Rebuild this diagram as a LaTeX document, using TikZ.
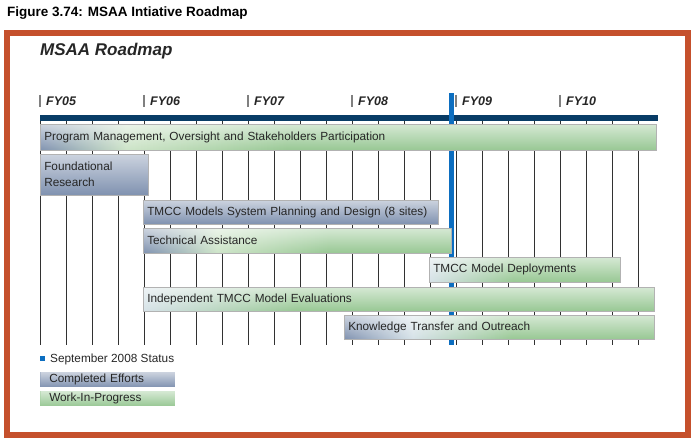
\documentclass[tikz,border=0pt]{standalone}
\usepackage{fontspec}
\setmainfont{Liberation Sans}
\usetikzlibrary{fadings}
\tikzfading[name=topglow, top color=transparent!0, bottom color=transparent!100]
\definecolor{frameorange}{RGB}{197,80,44}
\definecolor{navy}{RGB}{8,60,102}
\definecolor{statusblue}{RGB}{12,110,192}
\definecolor{bluegray}{RGB}{128,146,176}
\definecolor{wipgreen}{RGB}{152,200,148}
\definecolor{paleblue}{RGB}{214,226,232}
\definecolor{palegreen}{RGB}{205,228,200}
\definecolor{gridgray}{RGB}{50,50,50}
% the path spans 25bp..75bp of each shading
\pgfdeclarehorizontalshading{pmshade}{100bp}{color(0bp)=(bluegray); color(25bp)=(bluegray); color(32bp)=(palegreen); color(45bp)=(wipgreen); color(100bp)=(wipgreen)}
\pgfdeclarehorizontalshading{tashade}{100bp}{color(0bp)=(bluegray); color(25bp)=(bluegray); color(37bp)=(palegreen); color(55bp)=(wipgreen); color(100bp)=(wipgreen)}
\pgfdeclarehorizontalshading{ktshade}{100bp}{color(0bp)=(bluegray); color(25bp)=(bluegray); color(36bp)=(paleblue); color(52bp)=(wipgreen); color(100bp)=(wipgreen)}
\pgfdeclarehorizontalshading{depshade}{100bp}{color(0bp)=(paleblue); color(25bp)=(paleblue); color(47bp)=(wipgreen); color(100bp)=(wipgreen)}
\pgfdeclarehorizontalshading{indshade}{100bp}{color(0bp)=(paleblue); color(25bp)=(paleblue); color(40bp)=(wipgreen); color(100bp)=(wipgreen)}
\newcommand\barfont{\fontsize{11.8}{16}\selectfont}
\tikzset{
  bar/.style={draw=black!30, line width=0.5pt, anchor=north west,
    inner xsep=4pt, inner ysep=0pt, align=left, font=\barfont, text=black!85,
    path picture={\fill[white, fill opacity=0.6, path fading=topglow]
      (path picture bounding box.south west) rectangle (path picture bounding box.north east);}},
  done/.style={bar, fill=bluegray},
  wip/.style={bar, fill=wipgreen},
  yearlbl/.style={anchor=base west, font=\fontsize{12.5}{14}\selectfont\bfseries\itshape, text=black!85, inner sep=0pt},
  gridline/.style={gridgray, line width=1pt},
  yeartick/.style={gray, line width=1.4pt},
}
\begin{document}
\begin{tikzpicture}[x=1pt,y=-1pt]
\useasboundingbox (0,0) rectangle (694,443);
% title
\node[anchor=base west, inner sep=0pt, font=\fontsize{13.5}{15}\selectfont\bfseries] (title) at (7,17) {Figure 3.74: MSAA Intiative Roadmap};
% frame
\draw[frameorange, line width=6pt] (7,33) rectangle (688,435);
\node[anchor=base west, inner sep=0pt, font=\fontsize{17}{19}\selectfont\bfseries\itshape, text=black!85] (heading) at (40,56) {MSAA Roadmap};
% year labels
\foreach \lbl [count=\i from 0] in {FY05,FY06,FY07,FY08,FY09,FY10}{
  \draw[yeartick] ({40+104*\i},95) -- ({40+104*\i},107);
  \node[yearlbl] (y\i) at ({46+104*\i},106) {\lbl};
}
% grid
\foreach \k in {0,...,23}{
  \draw[gridline] ({40+26*\k},120) -- ({40+26*\k},345);
}
% timeline bar
\fill[navy] (40,115) rectangle (658,121);
% status line
\fill[statusblue] (449,93) rectangle (454,345);
% bars
\node[bar, shade, shading=pmshade,
  minimum width=616, minimum height=26, text width=608] (pm) at (40,124)
  {Program Management, Oversight and Stakeholders Participation};
\node[done, minimum width=108, minimum height=41, text width=100] (fr) at (40,154)
  {Foundational\\Research};
\node[done, minimum width=295, minimum height=24, text width=287] (plan) at (143,200)
  {TMCC Models System Planning and Design (8 sites)};
\node[bar, shade, shading=tashade,
  minimum width=308, minimum height=25, text width=300] (ta) at (143,228)
  {Technical Assistance};
\node[bar, shade, shading=depshade,
  minimum width=191, minimum height=25, text width=183] (dep) at (429,257)
  {TMCC Model Deployments};
\node[bar, shade, shading=indshade,
  minimum width=511, minimum height=24, text width=503] (ind) at (143,287)
  {Independent TMCC Model Evaluations};
\node[bar, shade, shading=ktshade,
  minimum width=310, minimum height=24, text width=302] (kt) at (344,315)
  {Knowledge Transfer and Outreach};
% legend
\fill[statusblue] (40,356) rectangle (45,361);
\node[anchor=base west, inner sep=0pt, font=\barfont, text=black!85] (lstatus) at (50,363) {September 2008 Status};
\node[done, draw=none, minimum width=135, minimum height=15, text width=117, inner xsep=9pt] (lcomp) at (40,372) {Completed Efforts};
\node[wip, draw=none, minimum width=135, minimum height=15, text width=117, inner xsep=9pt] (lwip) at (40,391) {Work-In-Progress};
\end{tikzpicture}
\end{document}
